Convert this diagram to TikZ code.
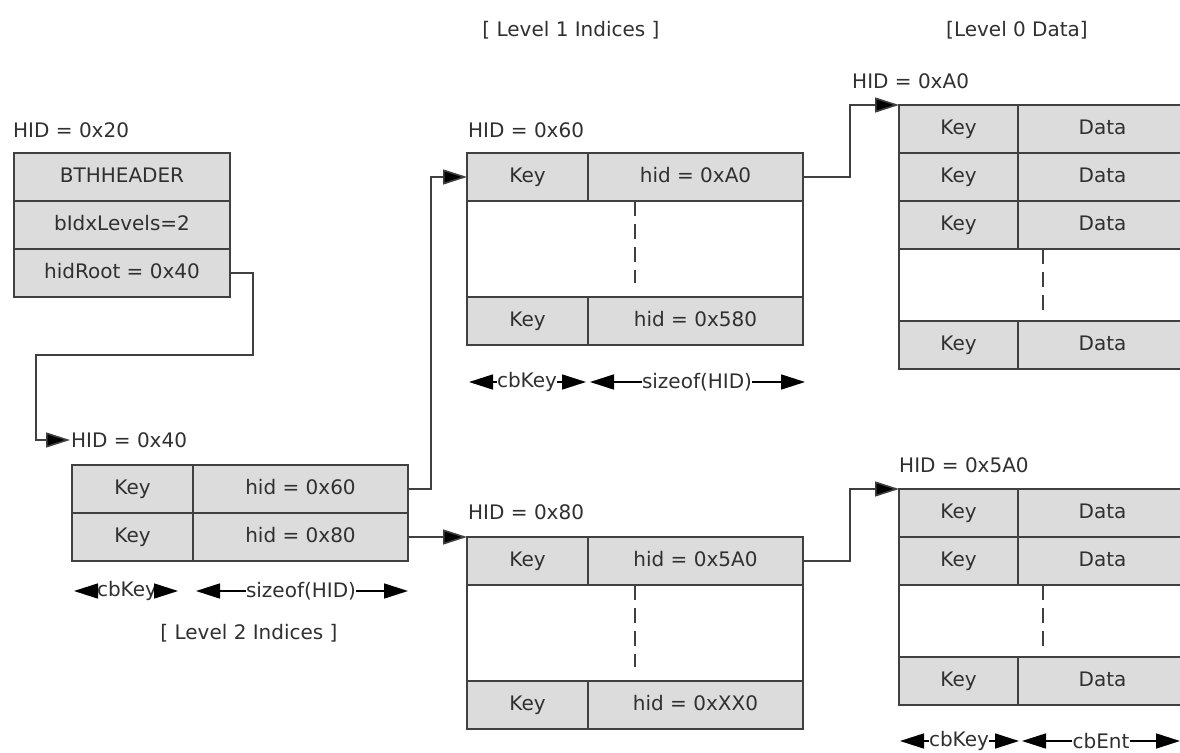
\documentclass[tikz,border=0pt]{standalone}
\usepackage{fontspec}
\setmainfont{DejaVu Sans}
\usetikzlibrary{arrows.meta}
\definecolor{cellfill}{HTML}{DCDCDC}
\definecolor{linecol}{HTML}{404040}
\definecolor{txt}{HTML}{303030}
\begin{document}
\begin{tikzpicture}[x=1pt,y=-1pt,
  font=\fontsize{20}{23}\selectfont, text=txt,
  cell/.style={draw=linecol, line width=1.6pt, fill=cellfill, minimum height=48pt,
               inner sep=0pt, outer sep=0pt, anchor=north west,
               text height=14pt, text depth=4pt},
  blank/.style={cell, fill=white},
  lbl/.style={inner sep=1pt, anchor=west},
  ttl/.style={inner sep=0pt},
  conn/.style={draw=linecol, line width=1.6pt,
               -{Triangle[length=24pt,width=15pt,fill=black]}},
  dim/.style={draw=black, line width=1.6pt,
              -{Triangle[length=24pt,width=15pt]}},
  dashln/.style={draw=linecol, line width=1.8pt, dash pattern=on 15pt off 8pt},
  dimtxt/.style={inner sep=0pt}]
\useasboundingbox (0,0) rectangle (1180,752);
\clip (0,0) rectangle (1180,752);
\fill[white] (0,0) rectangle (1180,752);

% titles
\node[ttl] (t1) at (571,30) {[ Level 1 Indices ]};
\node[ttl] (t0) at (1017,30) {[Level 0 Data]};
\node[ttl] (t2) at (249,633) {[ Level 2 Indices ]};

% header
\node[lbl] (hid20) at (12,130) {HID = 0x20};
\node[cell, minimum width=216pt] (bth) at (14,153) {BTHHEADER};
\node[cell, minimum width=216pt] (blev) at (14,201) {bIdxLevels=2};
\node[cell, minimum width=216pt] (hroot) at (14,249) {hidRoot = 0x40};

% level 2
\node[lbl] (hid40) at (70,440) {HID = 0x40};
\node[cell, minimum width=121pt] (k2a) at (72,465) {Key};
\node[cell, minimum width=215pt] (h2a) at (193,465) {hid = 0x60};
\node[cell, minimum width=121pt] (k2b) at (72,513) {Key};
\node[cell, minimum width=215pt] (h2b) at (193,513) {hid = 0x80};

% level 1 top
\node[lbl] (hid60) at (467,130) {HID = 0x60};
\node[cell, minimum width=121pt] (k1a) at (467,153) {Key};
\node[cell, minimum width=215pt] (h1a) at (588,153) {hid = 0xA0};
\node[blank, minimum width=336pt, minimum height=96pt] (b1a) at (467,201) {};
\node[cell, minimum width=121pt] (k1b) at (467,297) {Key};
\node[cell, minimum width=215pt] (h1b) at (588,297) {hid = 0x580};

% level 1 bottom
\node[lbl] (hid80) at (467,512) {HID = 0x80};
\node[cell, minimum width=121pt] (k1c) at (467,537) {Key};
\node[cell, minimum width=215pt] (h1c) at (588,537) {hid = 0x5A0};
\node[blank, minimum width=336pt, minimum height=96pt] (b1b) at (467,585) {};
\node[cell, minimum width=121pt] (k1d) at (467,681) {Key};
\node[cell, minimum width=215pt] (h1d) at (588,681) {hid = 0xXX0};

% level 0 top
\node[lbl] (hidA0) at (851,81) {HID = 0xA0};
\node[cell, minimum width=119pt] (dk1) at (899,105) {Key};
\node[cell, minimum width=169pt] (dd1) at (1018,105) {Data};
\node[cell, minimum width=119pt] (dk2) at (899,153) {Key};
\node[cell, minimum width=169pt] (dd2) at (1018,153) {Data};
\node[cell, minimum width=119pt] (dk3) at (899,201) {Key};
\node[cell, minimum width=169pt] (dd3) at (1018,201) {Data};
\node[blank, minimum width=288pt, minimum height=72pt] (db1) at (899,249) {};
\node[cell, minimum width=119pt] (dk4) at (899,321) {Key};
\node[cell, minimum width=169pt] (dd4) at (1018,321) {Data};

% level 0 bottom
\node[lbl] (hid5A0) at (898,465) {HID = 0x5A0};
\node[cell, minimum width=119pt] (ek1) at (899,489) {Key};
\node[cell, minimum width=169pt] (ed1) at (1018,489) {Data};
\node[cell, minimum width=119pt] (ek2) at (899,537) {Key};
\node[cell, minimum width=169pt] (ed2) at (1018,537) {Data};
\node[blank, minimum width=288pt, minimum height=72pt] (eb1) at (899,585) {};
\node[cell, minimum width=119pt] (ek3) at (899,657) {Key};
\node[cell, minimum width=169pt] (ed3) at (1018,657) {Data};

% dashed continuation marks
\draw[dashln] (b1a.north) -- ([yshift=14pt]b1a.south);
\draw[dashln] (b1b.north) -- ([yshift=14pt]b1b.south);
\draw[dashln] (db1.north) -- ([yshift=9pt]db1.south);
\draw[dashln] (eb1.north) -- ([yshift=9pt]eb1.south);

% connectors
\coordinate (c1) at (36,355);
\coordinate (c2) at (36,440);
\draw[conn] (hroot.east) -- ++(23,0) |- (c1) -- (c2) -- (hid40.west);
\draw[conn] (h2a.east) -- ++(23,0) |- (k1a.west);
\draw[conn] (h2b.east) -- (k1c.north west);
\draw[conn] (h1a.east) -- ++(47,0) |- (dk1.north west);
\draw[conn] (h1c.east) -- ++(47,0) |- (ek1.north west);

% dimension marks, level 2
\node[dimtxt] (ck2) at (127,591) {cbKey};
\coordinate (ck2l) at (74,591); \coordinate (ck2r) at (178,591);
\draw[dim] (ck2.west) -- (ck2l); \draw[dim] (ck2.east) -- (ck2r);
\node[dimtxt] (sz2) at (301,591) {sizeof(HID)};
\coordinate (sz2l) at (196,591); \coordinate (sz2r) at (408,591);
\draw[dim] (sz2.west) -- (sz2l); \draw[dim] (sz2.east) -- (sz2r);

% dimension marks, level 1
\node[dimtxt] (ck1) at (527,382) {cbKey};
\coordinate (ck1l) at (469,382); \coordinate (ck1r) at (586,382);
\draw[dim] (ck1.west) -- (ck1l); \draw[dim] (ck1.east) -- (ck1r);
\node[dimtxt] (sz1) at (697,382) {sizeof(HID)};
\coordinate (sz1l) at (590,382); \coordinate (sz1r) at (805,382);
\draw[dim] (sz1.west) -- (sz1l); \draw[dim] (sz1.east) -- (sz1r);

% dimension marks, level 0
\node[dimtxt] (ck0) at (959,741) {cbKey};
\coordinate (ck0l) at (900,741); \coordinate (ck0r) at (1019,741);
\draw[dim] (ck0.west) -- (ck0l); \draw[dim] (ck0.east) -- (ck0r);
\node[dimtxt] (ce0) at (1101,741) {cbEnt};
\coordinate (ce0l) at (1022,741); \coordinate (ce0r) at (1180,741);
\draw[dim] (ce0.west) -- (ce0l); \draw[dim] (ce0.east) -- (ce0r);
\end{tikzpicture}
\end{document}
